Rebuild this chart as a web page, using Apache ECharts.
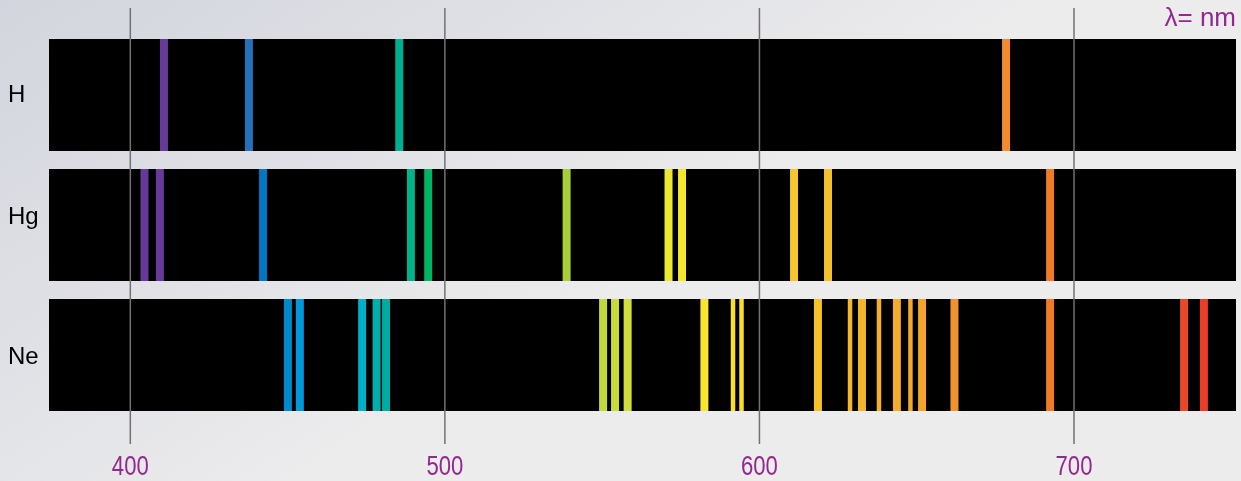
<!DOCTYPE html>
<html>
<head>
<meta charset="utf-8">
<script src="https://cdn.jsdelivr.net/npm/echarts@6/dist/echarts.min.js"></script>
<style>
html,body{margin:0;padding:0;}
#chart{width:1241px;height:481px;}
</style>
</head>
<body>
<div id="chart"></div>
<script>
// ---- data ----
const elements = ['H', 'Hg', 'Ne'];
const tickValues = [400, 500, 600, 700];
const unitLabel = 'λ= nm';
const hLines  = [410.7, 437.7, 485.5, 678.4];
const hgLines = [404.5, 409.4, 442.2, 489.2, 494.7, 538.7, 571.1, 575.4, 611.0, 621.8, 692.4];
const neLines = [450.1, 453.9, 473.7, 478.3, 481.3, 550.3, 554.1, 558.1, 582.5, 591.6, 594.3,
                 618.6, 628.8, 632.6, 638.0, 643.7, 648.0, 651.7, 662.0, 692.4, 735.0, 741.3];
const neWeakLines = [591.6, 594.3, 628.8, 638.0, 648.0];

// ---- styling: wavelength -> colour scale ----
const spectrumStops = [
  [400,'#663a99'],[411,'#663a99'],[437,'#2a70b8'],[442,'#0077c0'],[450,'#0088cc'],
  [454,'#0098d8'],[474,'#00afc8'],[478,'#00aeae'],[481.5,'#00ab9f'],[486,'#00b08f'],
  [489,'#00b48a'],[495,'#00b462'],[539,'#a6ce39'],[550,'#c2d93a'],[558,'#d0dd3a'],
  [571,'#ebe737'],[576,'#f5e82b'],[583,'#f9e42f'],[594,'#f9dc2c'],[611,'#f4c62f'],
  [619,'#f5c12a'],[622,'#f4c02e'],[629,'#f4b82a'],[652,'#f3a42c'],[662,'#f0922d'],
  [678,'#f28c2e'],[692,'#ee7b26'],[735,'#eb4829'],[742,'#ea3d26']
];
function hex2rgb(h){return [parseInt(h.substr(1,2),16),parseInt(h.substr(3,2),16),parseInt(h.substr(5,2),16)];}
function wlColor(w){
  if (w <= spectrumStops[0][0]) return spectrumStops[0][1];
  for (let i = 1; i < spectrumStops.length; i++) {
    if (w <= spectrumStops[i][0]) {
      const a = spectrumStops[i-1], b = spectrumStops[i];
      const t = (w - a[0]) / (b[0] - a[0]);
      const ca = hex2rgb(a[1]), cb = hex2rgb(b[1]);
      const c = ca.map((v, k) => Math.round(v + (cb[k] - v) * t));
      return 'rgb(' + c.join(',') + ')';
    }
  }
  return spectrumStops[spectrumStops.length-1][1];
}

const PURPLE = '#93288f';
const BAND_GAP = 18;
const X_MIN = 374.15, X_MAX = 751.5;

const lineData = [];
[hLines, hgLines, neLines].forEach((arr, row) => {
  arr.forEach(w => {
    const weak = row === 2 && neWeakLines.indexOf(w) >= 0 ? 1 : 0;
    lineData.push([w, row, weak]);
  });
});

const chart = echarts.init(document.getElementById('chart'), null, {renderer: 'canvas'});

const labelFont = {color: '#000', fontSize: 24, fontFamily: 'Liberation Sans, Arial, sans-serif'};

const option = {
  animation: false,
  backgroundColor: {
    type: 'linear', x: 0, y: 0, x2: 0.25, y2: 1,
    colorStops: [
      {offset: 0, color: '#d2d5dd'},
      {offset: 0.5, color: '#dfe0e5'},
      {offset: 1, color: '#ececed'}
    ]
  },
  title: {
    text: unitLabel,
    right: 5, top: 6, padding: 0,
    textStyle: {color: PURPLE, fontSize: 26, fontWeight: 'normal', fontFamily: 'Liberation Sans, Arial, sans-serif'}
  },
  grid: {left: 49, right: 5, top: 30, bottom: 61},
  xAxis: {
    type: 'value',
    min: X_MIN, max: X_MAX,
    axisLine: {show: false},
    axisTick: {show: false},
    splitLine: {show: false},
    axisLabel: {show: false}
  },
  yAxis: {
    type: 'category',
    data: elements,
    inverse: true,
    axisLine: {show: false},
    axisTick: {show: false},
    splitLine: {show: false},
    axisLabel: {
      align: 'left', margin: 41,
      color: '#000', fontSize: 24, fontFamily: 'Liberation Sans, Arial, sans-serif',
      formatter: function (v, i) { return '{r' + i + '|' + v + '}'; },
      rich: {
        r0: Object.assign({padding: [0, 0, 0, 0]}, labelFont),
        r1: Object.assign({padding: [0, 0, 16, 0]}, labelFont),
        r2: Object.assign({padding: [5, 0, 0, 0]}, labelFont)
      }
    }
  },
  series: [
    {
      type: 'custom', name: 'bands', z: 1, silent: true,
      data: elements.map((e, i) => [i]),
      encode: {y: 0},
      renderItem: function (params, api) {
        const cs = params.coordSys;
        const cy = api.coord([X_MIN, api.value(0)])[1];
        const bandH = api.size([0, 1])[1] - BAND_GAP;
        return {
          type: 'rect',
          shape: {x: cs.x, y: cy - bandH / 2, width: cs.width, height: bandH},
          style: {fill: '#000'}
        };
      }
    },
    {
      type: 'custom', name: 'grid', z: 2, silent: true,
      data: tickValues.map(v => [v]),
      encode: {x: 0},
      renderItem: function (params, api) {
        const cs = params.coordSys;
        const v = api.value(0);
        const x = api.coord([v, 0])[0];
        const bottom = cs.y + cs.height;
        return {
          type: 'group',
          children: [
            {
              type: 'line',
              shape: {x1: x, y1: cs.y - 22, x2: x, y2: bottom + 24},
              style: {stroke: '#727272', lineWidth: 1.5}
            },
            {
              type: 'text',
              x: x, y: bottom + 47,
              scaleX: 0.79,
              style: {
                text: String(v), x: 0, y: 0, align: 'center', verticalAlign: 'middle',
                fill: PURPLE, fontSize: 28, fontFamily: 'Liberation Sans, Arial, sans-serif'
              }
            }
          ]
        };
      }
    },
    {
      type: 'custom', name: 'lines', z: 3, silent: true,
      data: lineData,
      encode: {x: 0, y: 1},
      renderItem: function (params, api) {
        const w = api.value(0);
        const p = api.coord([w, api.value(1)]);
        const bandH = api.size([0, 1])[1] - BAND_GAP;
        const lw = api.value(2) ? 4.5 : 8;
        return {
          type: 'rect',
          shape: {x: p[0] - lw / 2, y: p[1] - bandH / 2, width: lw, height: bandH},
          style: {fill: wlColor(w)}
        };
      }
    }
  ]
};
chart.setOption(option);
</script>
</body>
</html>
